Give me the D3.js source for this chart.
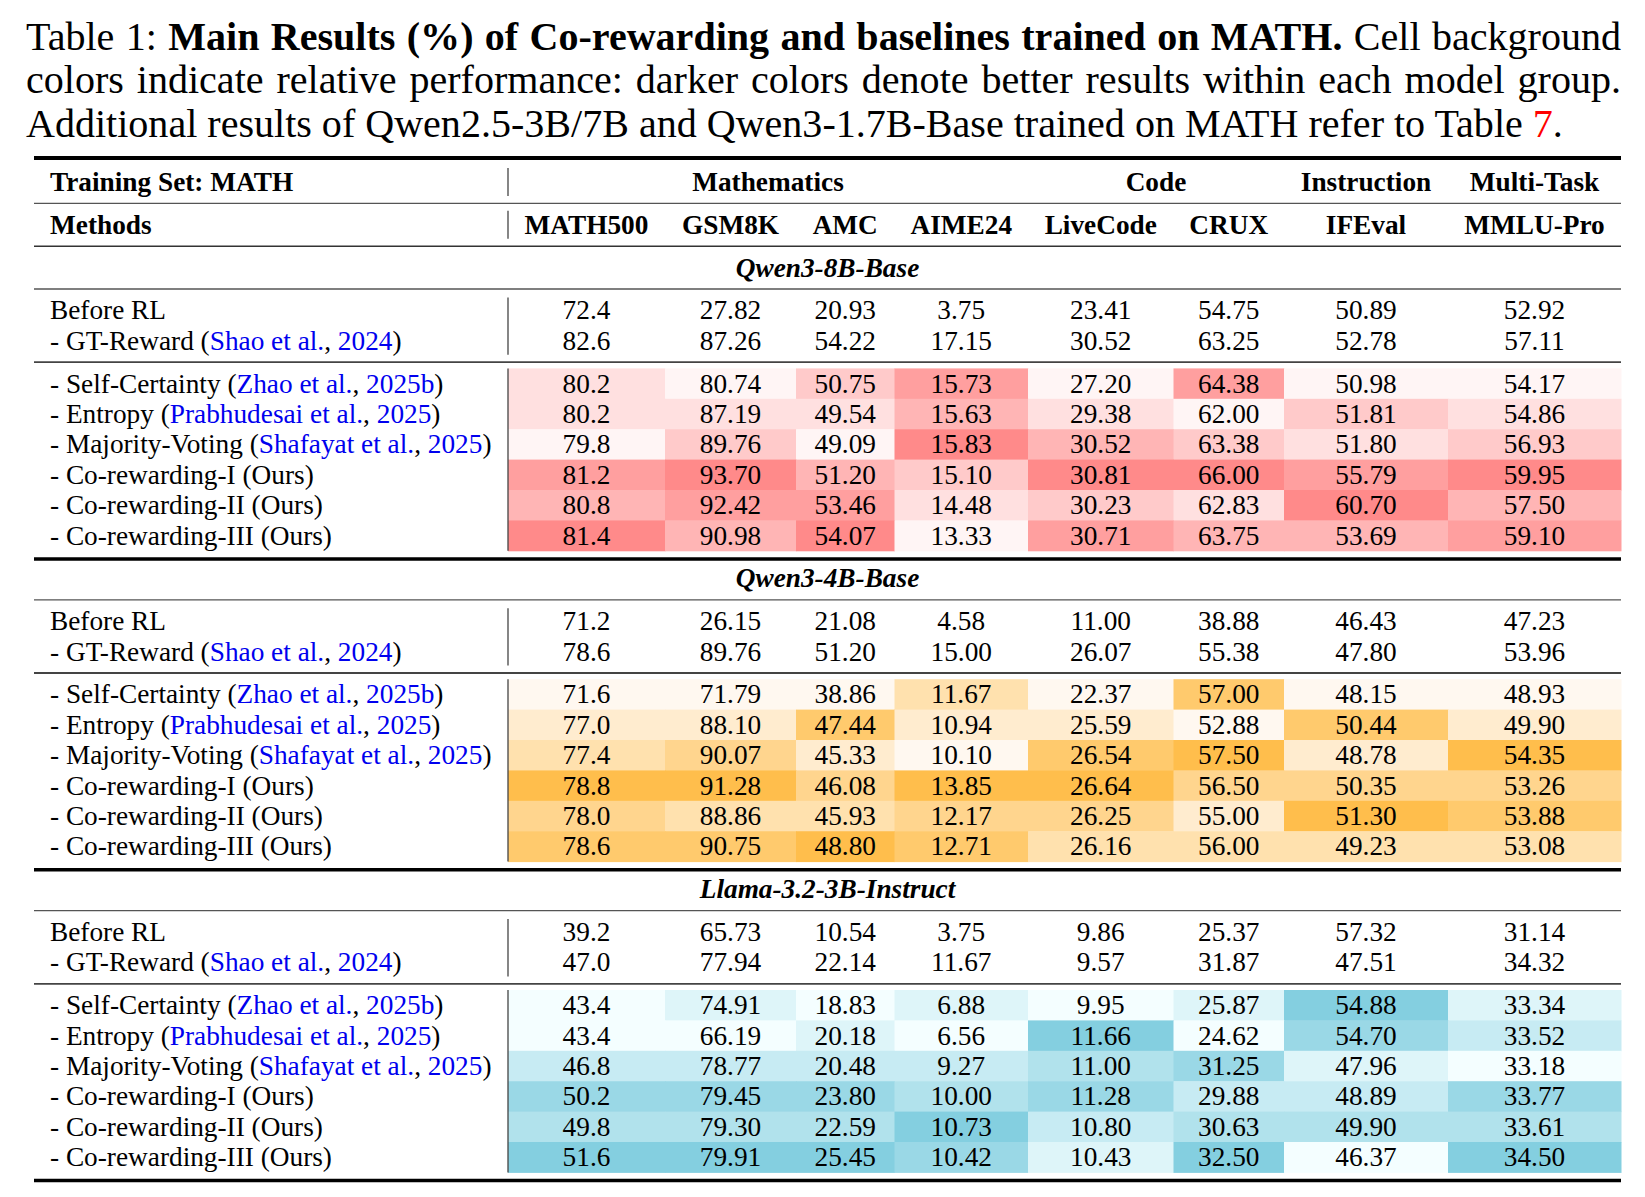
<!DOCTYPE html>
<html>
<head>
<meta charset="utf-8">
<script src="https://cdn.jsdelivr.net/npm/d3@7"></script>
<style>
  body { margin: 0; background: #fff; }
  svg { display: block; }
</style>
</head>
<body>
<svg id="chart"></svg>
<script>
// ---- data ----
const columns = ['MATH500', 'GSM8K', 'AMC', 'AIME24', 'LiveCode', 'CRUX', 'IFEval', 'MMLU-Pro']
const columnGroups = ['Mathematics', 'Code', 'Instruction', 'Multi-Task']
const columnGroupSpans = [[0, 3], [4, 5], [6, 6], [7, 7]]
const models = ['Qwen3-8B-Base', 'Qwen3-4B-Base', 'Llama-3.2-3B-Instruct']

const methodNames = ['Before RL', '- GT-Reward', '- Self-Certainty', '- Entropy', '- Majority-Voting',
  '- Co-rewarding-I', '- Co-rewarding-II', '- Co-rewarding-III']
const citeAuthors = [null, 'Shao et al.', 'Zhao et al.', 'Prabhudesai et al.', 'Shafayat et al.', null, null, null]
const citeYears = [null, '2024', '2025b', '2025', '2025', null, null, null]
const coloredRows = [2, 3, 4, 5, 6, 7]

const qwen8bValues = [
  [72.4, 27.82, 20.93, 3.75, 23.41, 54.75, 50.89, 52.92],
  [82.6, 87.26, 54.22, 17.15, 30.52, 63.25, 52.78, 57.11],
  [80.2, 80.74, 50.75, 15.73, 27.20, 64.38, 50.98, 54.17],
  [80.2, 87.19, 49.54, 15.63, 29.38, 62.00, 51.81, 54.86],
  [79.8, 89.76, 49.09, 15.83, 30.52, 63.38, 51.80, 56.93],
  [81.2, 93.70, 51.20, 15.10, 30.81, 66.00, 55.79, 59.95],
  [80.8, 92.42, 53.46, 14.48, 30.23, 62.83, 60.70, 57.50],
  [81.4, 90.98, 54.07, 13.33, 30.71, 63.75, 53.69, 59.10]
]
const qwen4bValues = [
  [71.2, 26.15, 21.08, 4.58, 11.00, 38.88, 46.43, 47.23],
  [78.6, 89.76, 51.20, 15.00, 26.07, 55.38, 47.80, 53.96],
  [71.6, 71.79, 38.86, 11.67, 22.37, 57.00, 48.15, 48.93],
  [77.0, 88.10, 47.44, 10.94, 25.59, 52.88, 50.44, 49.90],
  [77.4, 90.07, 45.33, 10.10, 26.54, 57.50, 48.78, 54.35],
  [78.8, 91.28, 46.08, 13.85, 26.64, 56.50, 50.35, 53.26],
  [78.0, 88.86, 45.93, 12.17, 26.25, 55.00, 51.30, 53.88],
  [78.6, 90.75, 48.80, 12.71, 26.16, 56.00, 49.23, 53.08]
]
const llamaValues = [
  [39.2, 65.73, 10.54, 3.75, 9.86, 25.37, 57.32, 31.14],
  [47.0, 77.94, 22.14, 11.67, 9.57, 31.87, 47.51, 34.32],
  [43.4, 74.91, 18.83, 6.88, 9.95, 25.87, 54.88, 33.34],
  [43.4, 66.19, 20.18, 6.56, 11.66, 24.62, 54.70, 33.52],
  [46.8, 78.77, 20.48, 9.27, 11.00, 31.25, 47.96, 33.18],
  [50.2, 79.45, 23.80, 10.00, 11.28, 29.88, 48.89, 33.77],
  [49.8, 79.30, 22.59, 10.73, 10.80, 30.63, 49.90, 33.61],
  [51.6, 79.91, 25.45, 10.42, 10.43, 32.50, 46.37, 34.50]
]
const modelValues = [qwen8bValues, qwen4bValues, llamaValues]
const modelPalettes = [['#fff5f5', '#ff8a8a'], ['#fff8f0', '#ffbe4c'], ['#f4feff', '#84cfe0']]

// ---- layout ----
const W = 1645
const H = 1197
const serif = '"Liberation Serif", "Times New Roman", serif'
const fs = 27.3
const tableLeft = 34
const tableRight = 1621
const labelX = 50
const colEdges = [508, 665, 796, 894.5, 1028, 1173.5, 1284, 1448, 1621]
const rowH = 30.4
const ruleGap = 12.4

const svg = d3.select('#chart')
  .attr('width', W)
  .attr('height', H)
  .attr('viewBox', `0 0 ${W} ${H}`)

// column scales (left edge / width)
const xLeft = d3.scaleOrdinal().domain(columns).range(colEdges.slice(0, -1))
const xWidth = d3.scaleOrdinal().domain(columns).range(colEdges.slice(1).map((e, i) => e - colEdges[i]))
const xMid = c => xLeft(c) + xWidth(c) / 2

// row scale: slot index -> y centre, plus the extra space added by each rule
const ySlot = d3.scaleLinear().domain([0, 1]).range([182, 182 + rowH])
const yRow = (slot, rules) => ySlot(slot) + rules * ruleGap
const ruleAfter = (slot, rules) => yRow(slot, rules) + (rowH + ruleGap) / 2

// ---- caption ----
const captionLines = [
  [['Table 1: ', 'normal', '#000'], ['Main Results (%) of Co-rewarding and baselines trained on MATH.', 'bold', '#000'], [' Cell background', 'normal', '#000']],
  [['colors indicate relative performance: darker colors denote better results within each model group.', 'normal', '#000']],
  [['Additional results of Qwen2.5-3B/7B and Qwen3-1.7B-Base trained on MATH refer to Table ', 'normal', '#000'], ['7', 'normal', '#f00'], ['.', 'normal', '#000']]
]
const captionBaselines = [49.5, 93, 136.5]
const captionLeft = 26
const captionRight = 1621

const capTexts = captionLines.map((parts, i) => {
  const t = svg.append('text')
    .attr('x', captionLeft)
    .attr('y', captionBaselines[i])
    .style('font-family', serif)
    .style('font-size', '36px')
  parts.forEach(p => {
    t.append('tspan').attr('font-weight', p[1]).attr('fill', p[2]).text(p[0])
  })
  return t
})
// fit the font so the last line keeps its width, then justify the first two lines
const lastW = capTexts[2].node().getComputedTextLength()
const capFs = 36 * 1537 / lastW
capTexts.forEach((t, i) => {
  t.style('font-size', capFs + 'px')
  if (i < 2) {
    const natural = t.node().getComputedTextLength()
    const spaces = captionLines[i].map(p => p[0]).join('').split(' ').length - 1
    t.attr('word-spacing', (captionRight - captionLeft - natural) / spaces)
  }
})

// ---- rules ----
function hRule (y, w, color) {
  svg.append('line')
    .attr('x1', tableLeft).attr('x2', tableRight)
    .attr('y1', y).attr('y2', y)
    .attr('stroke', color).attr('stroke-width', w)
}
function vRule (y1, y2) {
  svg.append('line')
    .attr('x1', colEdges[0]).attr('x2', colEdges[0])
    .attr('y1', y1).attr('y2', y2)
    .attr('stroke', '#444').attr('stroke-width', 1.3)
}

hRule(yRow(0, 0) - (rowH + ruleGap) / 2 - 2.5, 4, '#000')

// ---- header ----
const header = svg.append('g')
  .style('font-family', serif)
  .style('font-size', fs + 'px')
  .style('font-weight', 'bold')

header.append('text').attr('x', labelX).attr('y', yRow(0, 0) + 9).text('Training Set: MATH')
header.append('text').attr('x', labelX).attr('y', yRow(1, 1) + 9).text('Methods')
columnGroups.forEach((g, i) => {
  const [a, b] = columnGroupSpans[i]
  const cx = (xLeft(columns[a]) + xLeft(columns[b]) + xWidth(columns[b])) / 2
  header.append('text').attr('x', cx).attr('y', yRow(0, 0) + 9)
    .attr('text-anchor', 'middle').text(g)
})
columns.forEach(c => {
  header.append('text').attr('x', xMid(c)).attr('y', yRow(1, 1) + 9)
    .attr('text-anchor', 'middle').text(c)
})
vRule(yRow(0, 0) - 14, yRow(0, 0) + 14)
vRule(yRow(1, 1) - 14, yRow(1, 1) + 14)
hRule(ruleAfter(0, 0), 1.3, '#555')
hRule(ruleAfter(1, 1), 1.6, '#333')

// ---- model blocks ----
const fmt1 = d3.format('.1f')
const fmt2 = d3.format('.2f')

models.forEach((model, m) => {
  const baseSlot = 2 + m * 9
  const baseRules = 2 + m * 3
  const values = modelValues[m]
  const color = d3.interpolateRgb(modelPalettes[m][0], modelPalettes[m][1])

  // model title
  svg.append('text')
    .attr('x', (tableLeft + tableRight) / 2)
    .attr('y', yRow(baseSlot, baseRules) + 9)
    .attr('text-anchor', 'middle')
    .style('font-family', serif)
    .style('font-size', fs + 'px')
    .style('font-weight', 'bold')
    .style('font-style', 'italic')
    .text(model)
  hRule(ruleAfter(baseSlot, baseRules), 1.3, '#555')

  const rowY = r => r < 2
    ? yRow(baseSlot + 1 + r, baseRules + 1)
    : yRow(baseSlot + 1 + r, baseRules + 2)

  // cell backgrounds: darker = higher rank inside the column
  coloredRows.forEach(r => {
    columns.forEach((c, ci) => {
      const v = values[r][ci]
      const rank = coloredRows.filter(k => values[k][ci] < v).length
      svg.append('rect')
        .attr('x', xLeft(c))
        .attr('y', rowY(r) - rowH / 2)
        .attr('width', xWidth(c) + 0.5)
        .attr('height', rowH + 0.5)
        .attr('fill', color(rank / (coloredRows.length - 1)))
    })
  })

  // method labels and values
  methodNames.forEach((name, r) => {
    const y = rowY(r) + 9
    const t = svg.append('text')
      .attr('x', labelX).attr('y', y)
      .style('font-family', serif)
      .style('font-size', fs + 'px')
    t.append('tspan').text(name)
    if (citeAuthors[r]) {
      t.append('tspan').text(' (')
      t.append('tspan').attr('fill', '#0000ee').text(citeAuthors[r])
      t.append('tspan').text(', ')
      t.append('tspan').attr('fill', '#0000ee').text(citeYears[r])
      t.append('tspan').text(')')
    } else if (r >= 5) {
      t.append('tspan').text(' (Ours)')
    }
    columns.forEach((c, ci) => {
      svg.append('text')
        .attr('x', xMid(c)).attr('y', y)
        .attr('text-anchor', 'middle')
        .style('font-family', serif)
        .style('font-size', fs + 'px')
        .text(ci === 0 ? fmt1(values[r][ci]) : fmt2(values[r][ci]))
    })
  })

  vRule(rowY(0) - 13, rowY(1) + 14)
  hRule(ruleAfter(baseSlot + 2, baseRules + 1), 1.8, '#444')
  vRule(rowY(2) - rowH / 2, rowY(7) + rowH / 2)
  hRule(ruleAfter(baseSlot + 8, baseRules + 2) + 2, 3.5, '#000')
})
</script>
</body>
</html>
